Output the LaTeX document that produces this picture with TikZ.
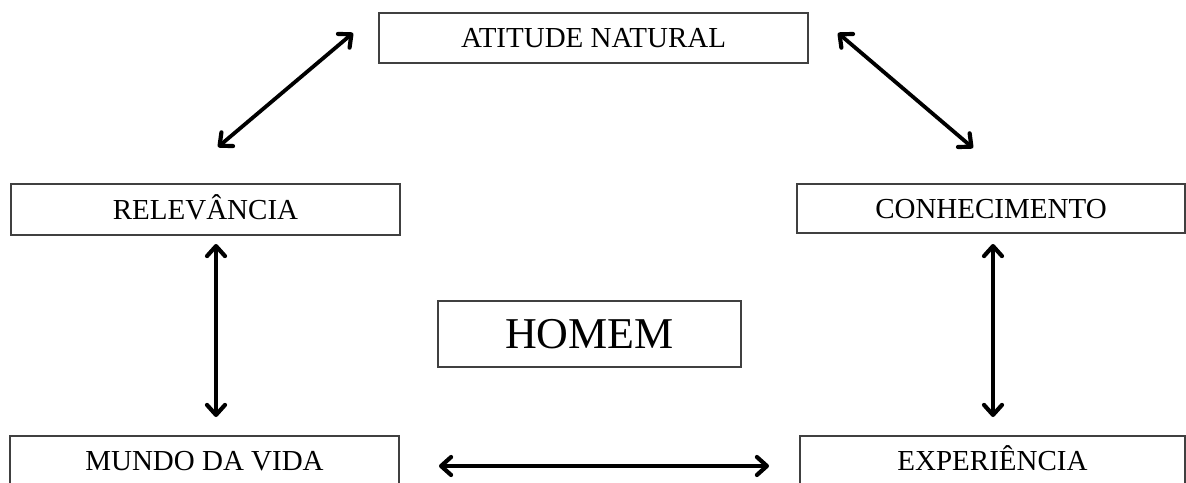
\documentclass[tikz,border=0pt]{standalone}
\usepackage{fontspec}
\setmainfont{Liberation Serif}
\usetikzlibrary{arrows.meta}
\begin{document}
\begin{tikzpicture}[x=1pt,y=-1pt,
  box/.style={draw=black!75,line width=1.8pt,rectangle,inner sep=0pt,fill=white,
    text height=19pt,text depth=0pt,
    font=\fontsize{29}{30}\selectfont},
  bigbox/.style={box,text height=29pt,font=\fontsize{44}{46}\selectfont},
  link/.style={line width=3.8pt,black,line cap=round,
    {Straight Barb[length=10pt,width=18pt,line width=0pt 1.1,round]}-{Straight Barb[length=10pt,width=18pt,line width=0pt 1.1,round]}}]
\useasboundingbox[fill=white] (0,0) rectangle (1186,482);
\node[box,minimum width=429pt,minimum height=50pt] (atitude) at (593.5,38) {ATITUDE NATURAL};
\node[box,minimum width=389pt,minimum height=51pt] (relev) at (205.5,209.5) {RELEVÂNCIA};
\node[box,minimum width=388pt,minimum height=49pt] (conhec) at (991,208.5) {CONHECIMENTO};
\node[bigbox,minimum width=303pt,minimum height=66pt] (homem) at (589.5,334) {HOMEM};
\node[box,minimum width=389pt,minimum height=50pt] (mundo) at (204.5,461) {MUNDO DA VIDA};
\node[box,minimum width=385pt,minimum height=50pt] (exper) at (992.5,461) {EXPERIÊNCIA};
\coordinate (a1) at (218,147);
\coordinate (a2) at (353,33);
\coordinate (b1) at (838,33);
\coordinate (b2) at (973,148);
\coordinate (c1) at (216,244);
\coordinate (c2) at (216,417);
\coordinate (d1) at (993,244);
\coordinate (d2) at (993,417);
\coordinate (e1) at (439,466);
\coordinate (e2) at (769,466);
\draw[link] (a1) -- (a2);
\draw[link] (b1) -- (b2);
\draw[link] (c1) -- (c2);
\draw[link] (d1) -- (d2);
\draw[link] (e1) -- (e2);
\end{tikzpicture}
\end{document}
